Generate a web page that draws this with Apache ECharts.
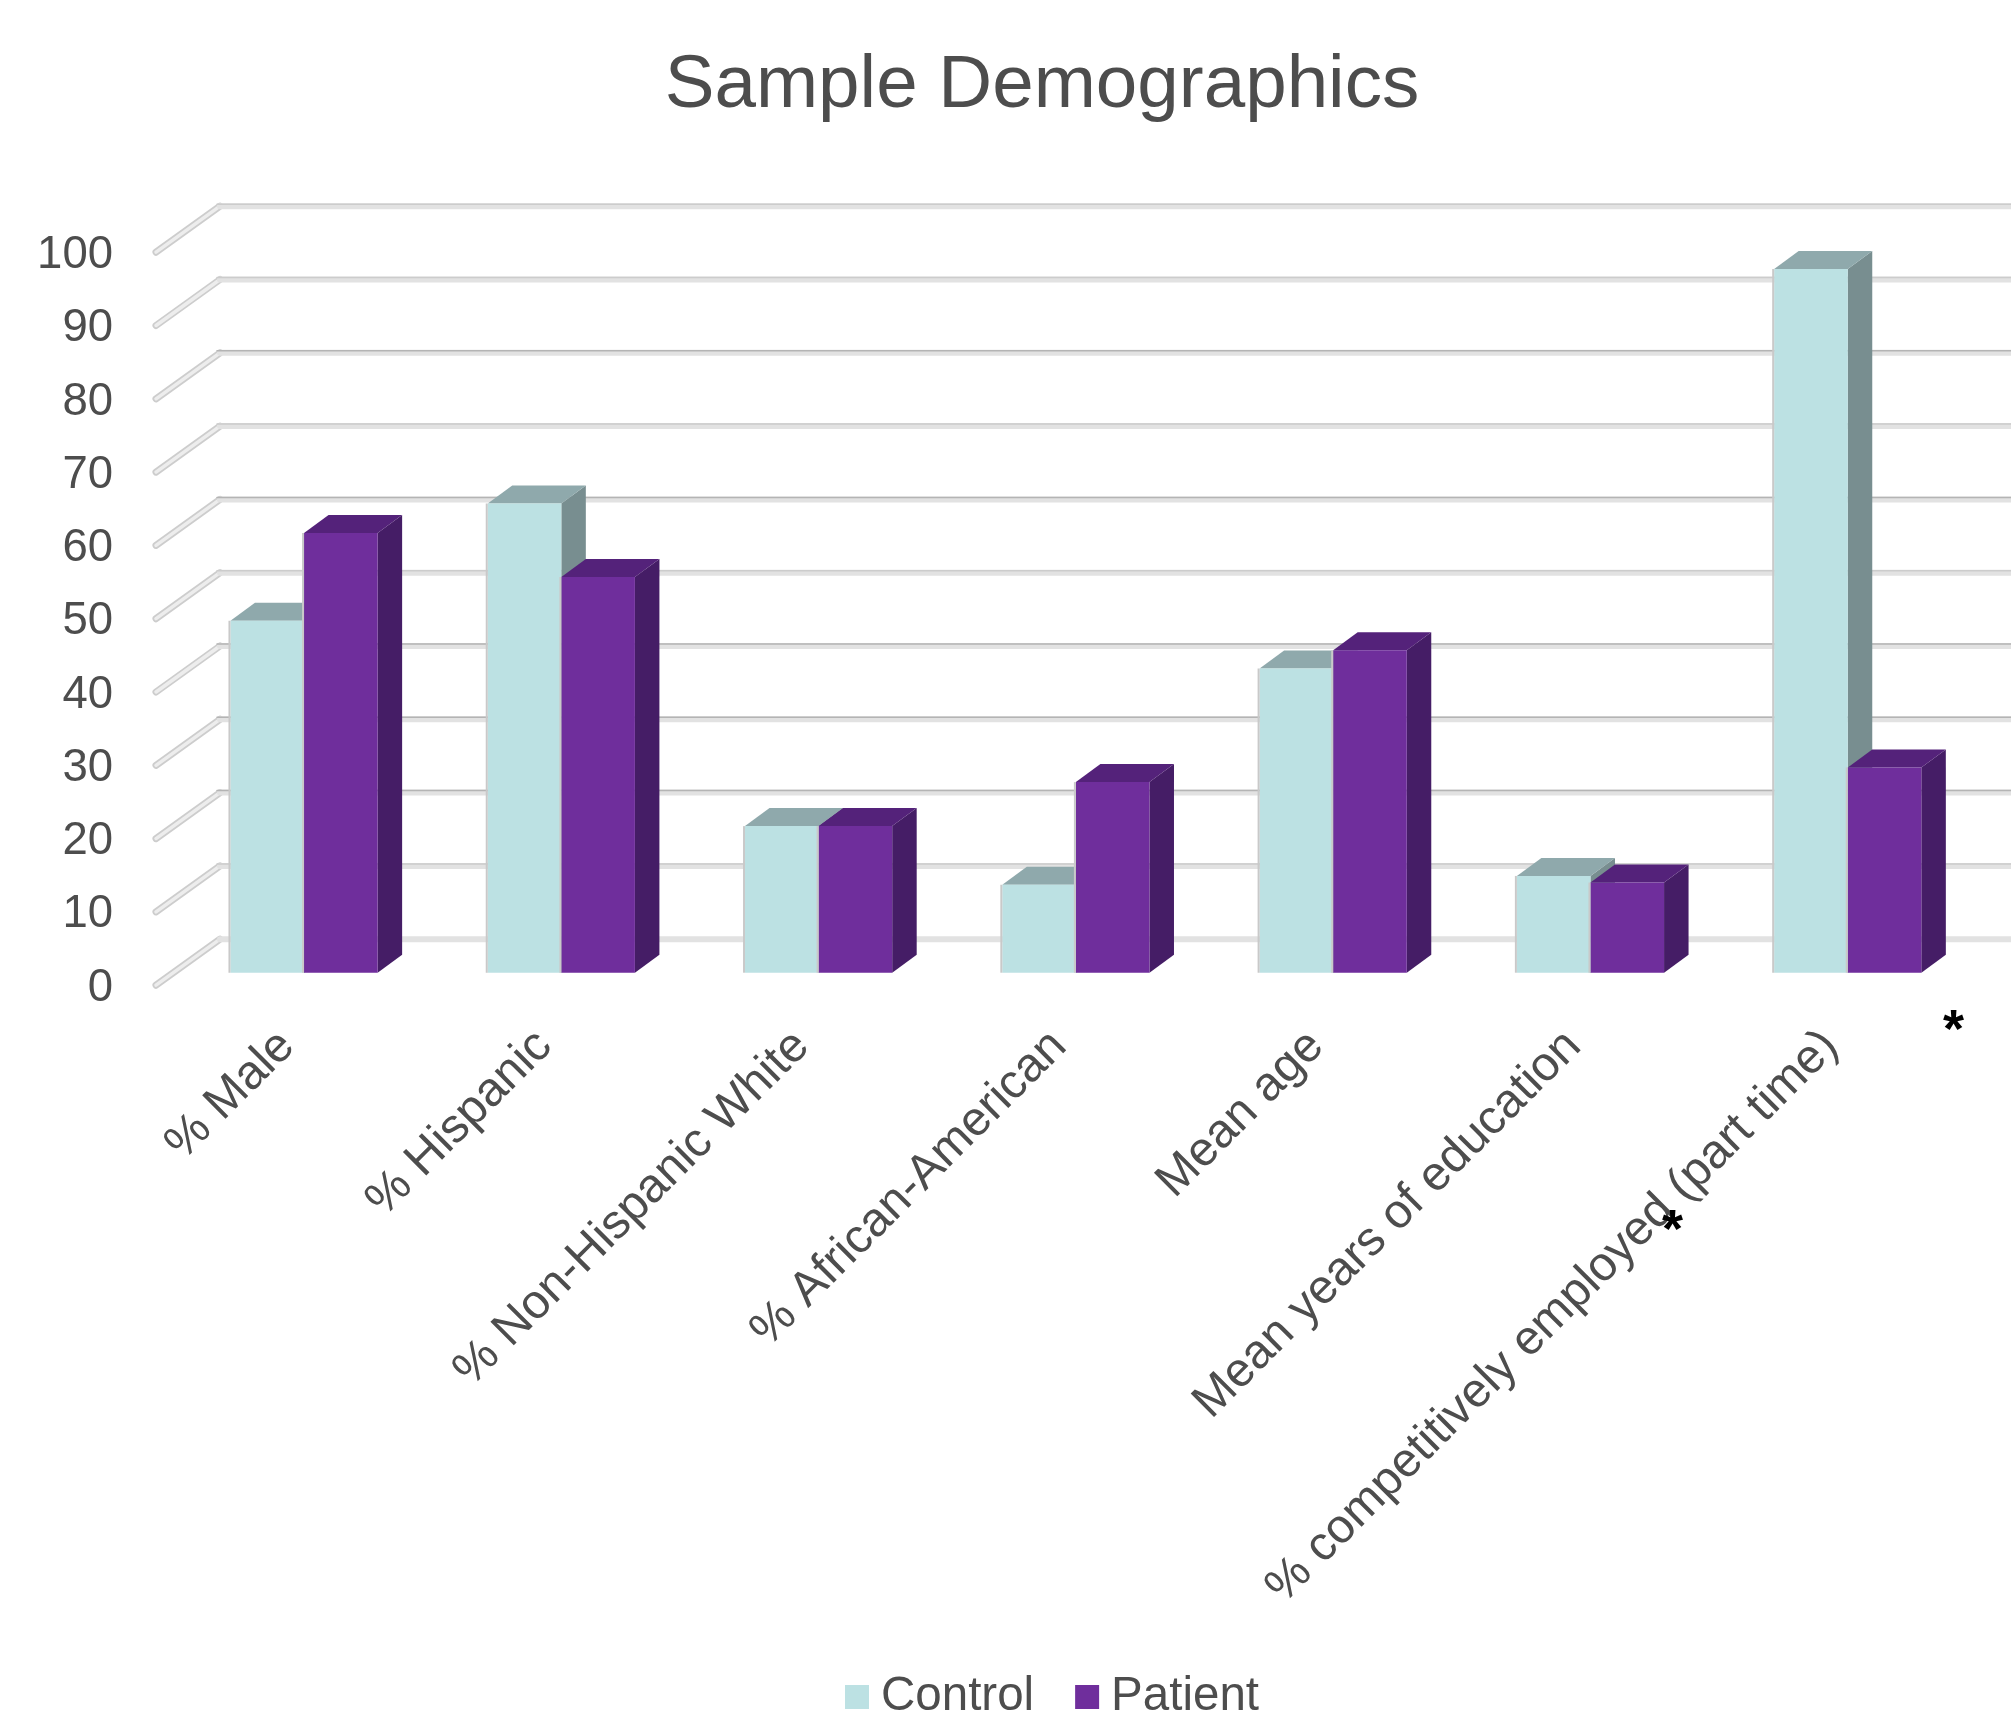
<!DOCTYPE html>
<html>
<head>
<meta charset="utf-8">
<style>html,body{margin:0;padding:0;background:#fff}#chart{width:2011px;height:1714px}</style>
<script src="https://cdn.jsdelivr.net/npm/echarts@6/dist/echarts.min.js"></script>
</head>
<body>
<div id="chart"></div>
<script>
// Sample demographics, control vs. patient, drawn as pseudo-3D columns.
const categories = ['% Male', '% Hispanic', '% Non-Hispanic White', '% African-American',
  'Mean age', 'Mean years of education', '% competitively employed (part time)'];
const controlValues = [48, 64, 20, 12, 41.5, 13.2, 96];
const patientValues = [60, 54, 20, 26, 44, 12.3, 28];
const valueTicks = [0, 10, 20, 30, 40, 50, 60, 70, 80, 90, 100];

const FONT = '"Liberation Sans", Arial, sans-serif';
const TEXT = '#4d4d4d';
const DEPTH_X = 24.5, DEPTH_Y = 18;     // column extrusion
const BAR_RATIO = 0.286;                // one column's width as a share of the category band
const FRONT_X = 156, BACK_X = 220;      // floor edge and back wall, left ends of the gridlines
const WALL_DY = 33.5, FLOOR_DY = 12.5;  // bar plane to back wall / floor edge

function columnRenderer(side, face, topFace, sideFace) {
  return function (params, api) {
    const idx = api.value(0), val = api.value(1);
    const base = api.coord([idx, 0]);
    const top = api.coord([idx, val]);
    const w = api.size([1, 0])[0] * BAR_RATIO;
    const x0 = side < 0 ? base[0] - w : base[0];
    const x1 = x0 + w;
    const poly = (points, fill) => ({ type: 'polygon', shape: { points }, style: { fill } });
    return {
      type: 'group',
      children: [
        poly([[x1, top[1]], [x1 + DEPTH_X, top[1] - DEPTH_Y], [x1 + DEPTH_X, base[1] - DEPTH_Y], [x1, base[1]]], sideFace),
        poly([[x0, top[1]], [x0 + DEPTH_X, top[1] - DEPTH_Y], [x1 + DEPTH_X, top[1] - DEPTH_Y], [x1, top[1]]], topFace),
        { type: 'rect', shape: { x: x0, y: top[1], width: w, height: base[1] - top[1] }, style: { fill: face } },
        { type: 'line', shape: { x1: x0 - 1, y1: top[1], x2: x0 - 1, y2: base[1] }, style: { stroke: '#c9c9c9', lineWidth: 2 } }
      ]
    };
  };
}

// Each gridline runs along the floor edge (outlined strip), then across the back wall (flat band).
function wallLine(params, api) {
  const value = api.value(1);
  const y = api.coord([0, value])[1];
  const floorEnd = [FRONT_X, y + FLOOR_DY];
  const wallStart = [BACK_X, y - WALL_DY];
  const wallEnd = [api.getWidth() + 5, y - WALL_DY];
  const line = (points, stroke, lineWidth) => ({
    type: 'polyline', shape: { points }, style: { stroke, lineWidth, fill: null, lineCap: 'round', lineJoin: 'round' }
  });
  const children = [
    line([floorEnd, wallStart], '#cdcdcd', 7),
    line([floorEnd, wallStart], '#ededed', 3.5),
    line([wallStart, wallEnd], '#e2e2e2', 6)
  ];
  // the bottom gridline is the flat band only
  if (value > 0) {
    const edge = value % 20 === 0 && value < 100 || value === 30 ? '#b4b4b4' : '#cccccc';
    children.push(line([[wallStart[0] - 3, wallStart[1] - 2], [wallEnd[0], wallEnd[1] - 2]], edge, 1.5));
  }
  return { type: 'group', children };
}

const chart = echarts.init(document.getElementById('chart'), null, { renderer: 'canvas' });
chart.setOption({
  animation: false,
  backgroundColor: '#ffffff',
  title: {
    text: 'Sample Demographics',
    left: 1037, top: 81, textAlign: 'center', textVerticalAlign: 'middle',
    textStyle: { fontFamily: FONT, fontSize: 74.6, fontWeight: 'normal', color: TEXT }
  },
  legend: {
    left: 840, top: 1668,
    itemWidth: 24, itemHeight: 24, itemGap: 41,
    icon: 'rect',
    data: ['Control', 'Patient'],
    textStyle: { fontFamily: FONT, fontSize: 47.5, color: TEXT, padding: [0, 0, 0, 7] }
  },
  grid: [
    { left: 175.4, width: 1801, top: 239.7, height: 733 },   // plane of the column fronts
    { left: 125, width: 1800, top: 255.5, height: 732.5 }    // tick labels beside the floor edge
  ],
  xAxis: [
    {
      type: 'category', gridIndex: 0, data: categories,
      axisLine: { show: false }, axisTick: { show: false },
      axisLabel: { rotate: 45, interval: 0, margin: 49, padding: [0, 24, 0, 0], fontFamily: FONT, fontSize: 48, color: TEXT }
    },
    { type: 'category', gridIndex: 1, data: categories, show: false }
  ],
  yAxis: [
    { type: 'value', gridIndex: 0, min: 0, max: 100, interval: 10, show: false },
    {
      type: 'value', gridIndex: 1, min: 0, max: 100, interval: 10,
      axisLine: { show: false }, axisTick: { show: false }, splitLine: { show: false },
      axisLabel: { margin: 12, fontFamily: FONT, fontSize: 45.5, color: TEXT }
    }
  ],
  series: [
    {
      type: 'custom', name: 'gridlines', xAxisIndex: 0, yAxisIndex: 0, z: 1, silent: true, clip: false,
      data: valueTicks.map(v => [0, v]), renderItem: wallLine
    },
    {
      type: 'custom', name: 'Control', xAxisIndex: 0, yAxisIndex: 0, z: 2, clip: false,
      itemStyle: { color: '#bce1e3' },
      data: controlValues.map((v, i) => [i, v]),
      renderItem: columnRenderer(-1, '#bce1e3', '#8fa9ac', '#788e90')
    },
    {
      type: 'custom', name: 'Patient', xAxisIndex: 0, yAxisIndex: 0, z: 3, clip: false,
      itemStyle: { color: '#6f2e9c' },
      data: patientValues.map((v, i) => [i, v]),
      renderItem: columnRenderer(1, '#6f2e9c', '#54227a', '#451d66')
    }
  ],
  graphic: [
    { type: 'text', z: 10, left: 1943, top: 1005, style: { text: '*', fontFamily: FONT, fontSize: 54, fontWeight: 'bold', fill: '#000' } },
    { type: 'text', z: 10, left: 1662, top: 1205, style: { text: '*', fontFamily: FONT, fontSize: 54, fontWeight: 'bold', fill: '#000' } }
  ]
});
</script>
</body>
</html>
